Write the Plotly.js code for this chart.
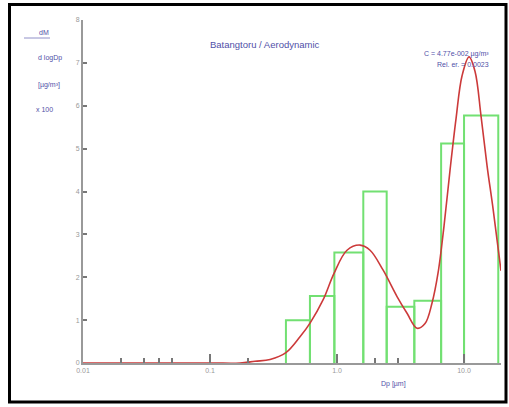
<!DOCTYPE html>
<html>
<head>
<meta charset="utf-8">
<script src="https://cdn.plot.ly/plotly-3.0.1.min.js"></script>
<style>html,body{margin:0;padding:0;background:#fff}#chart{width:509px;height:407px}</style>
</head>
<body>
<div id="chart"></div>
<script>
// Histogram (impactor stages): bin edges in µm and heights
var binEdges = [0.396, 0.612, 0.953, 1.61, 2.46, 4.06, 6.6, 10.0, 18.6];
var binHeights = [1.0, 1.56, 2.58, 4.0, 1.31, 1.45, 5.12, 5.77];

// Fitted curve
var fitDp = [0.01, 0.1, 0.172, 0.226, 0.297, 0.396, 0.511, 0.613, 0.776, 0.947, 1.198, 1.517, 1.82, 2.302, 2.968, 3.558, 4.265, 4.931, 5.598, 6.243, 6.959, 7.758, 8.65, 9.646, 10.95, 12.21, 13.61, 15.18, 16.92, 19.54];
var fitVal = [0, 0, 0, 0.04, 0.08, 0.24, 0.61, 0.93, 1.47, 2.09, 2.63, 2.75, 2.63, 2.17, 1.55, 1.16, 0.81, 0.92, 1.4, 2.1, 3.2, 4.5, 5.7, 6.7, 7.14, 6.8, 5.76, 4.6, 3.6, 2.15];

var xTickVals = [0.01, 0.1, 1, 10];
var xTickText = ['0.01', '0.1', '1.0', '10.0'];
var xMinorVals = [0.02, 0.03, 0.04, 0.05, 0.2, 2, 3, 19.5];
var yTickVals = [0, 1, 2, 3, 4, 5, 6, 7, 8];

// build bar outlines from the data arrays
var bx = [], by = [];
for (var i = 0; i < binHeights.length; i++) {
  bx.push(binEdges[i], binEdges[i], binEdges[i+1], binEdges[i+1], null);
  by.push(0, binHeights[i], binHeights[i], 0, null);
}

var blue = '#5050a8';
var traces = [
  {x: bx, y: by, type: 'scatter', mode: 'lines', line: {color: '#72e072', width: 2}, hoverinfo: 'skip', connectgaps: false},
  {x: fitDp, y: fitVal, type: 'scatter', mode: 'lines', line: {color: '#cc3a3a', width: 1.6, shape: 'spline', smoothing: 1}}
];

function px(x){return (x-83)/418;}
function py(y){return (363-y)/343;}

var layout = {
  width: 509, height: 407,
  margin: {l: 83, r: 8, t: 20, b: 44},
  paper_bgcolor: '#fff', plot_bgcolor: '#fff',
  showlegend: false,
  font: {family: 'Liberation Sans, Arial, sans-serif', size: 7, color: '#888'},
  xaxis: {
    type: 'log', range: [-2, 1.291], showgrid: false, zeroline: false,
    showline: true, linecolor: '#999', linewidth: 2,
    ticks: 'inside', ticklen: 9, tickwidth: 2, tickcolor: '#777',
    tickvals: xTickVals, ticktext: xTickText,
    tickfont: {size: 7, color: '#999'},
    minor: {tickvals: xMinorVals, ticks: 'inside', ticklen: 5, tickwidth: 2, tickcolor: '#777'}
  },
  yaxis: {
    range: [0, 8], showgrid: false, zeroline: false,
    showline: true, linecolor: '#999', linewidth: 2,
    ticks: 'inside', ticklen: 4, tickwidth: 2, tickcolor: '#777',
    tickvals: yTickVals, tickfont: {size: 7, color: '#999'}, ticklabelstandoff: 0
  },
  shapes: [
    {type: 'rect', xref: 'paper', yref: 'paper', x0: px(9.5), x1: px(506), y0: py(402), y1: py(4.5), line: {color: '#000', width: 3}},
    {type: 'line', xref: 'paper', yref: 'paper', x0: px(24), x1: px(50), y0: py(38), y1: py(38), line: {color: '#9090c8', width: 1}}
  ],
  annotations: [
    {xref: 'paper', yref: 'paper', x: px(265), y: py(37), text: 'Batangtoru / Aerodynamic', showarrow: false, font: {size: 9.5, color: blue}},
    {xref: 'paper', yref: 'paper', x: px(491), y: py(48), xanchor: 'right', text: 'C = 4.77e-002 µg/m³', showarrow: false, font: {size: 7, color: blue}},
    {xref: 'paper', yref: 'paper', x: px(491), y: py(59), xanchor: 'right', text: 'Rel. er. = 0.0023', showarrow: false, font: {size: 7, color: blue}},
    {xref: 'paper', yref: 'paper', x: px(408), y: py(390), text: 'Dp [µm]', showarrow: false, font: {size: 7, color: blue}},
    {xref: 'paper', yref: 'paper', x: px(37), y: py(27), text: 'dM', showarrow: false, font: {size: 7, color: blue}},
    {xref: 'paper', yref: 'paper', x: px(36), y: py(52), text: 'd logDp', showarrow: false, font: {size: 7, color: blue}},
    {xref: 'paper', yref: 'paper', x: px(36), y: py(79), text: '[µg/m³]', showarrow: false, font: {size: 7, color: blue}},
    {xref: 'paper', yref: 'paper', x: px(34), y: py(104), text: 'x 100', showarrow: false, font: {size: 7, color: blue}}
  ]
};

Plotly.newPlot('chart', traces, layout, {displayModeBar: false, staticPlot: true});
</script>
</body>
</html>
